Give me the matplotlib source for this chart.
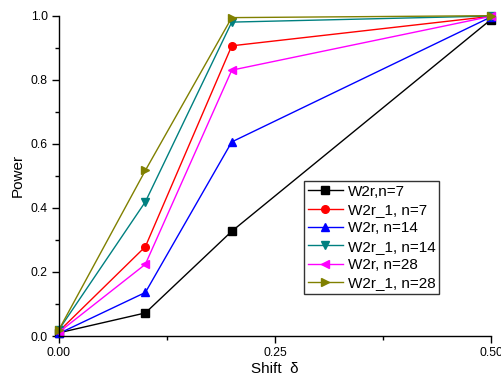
import matplotlib
matplotlib.use("Agg")
import matplotlib.pyplot as plt
from matplotlib.ticker import MultipleLocator, FormatStrFormatter

plt.rcParams['font.family'] = ['Liberation Sans', 'DejaVu Sans']

shift = [0.0, 0.1, 0.2, 0.5]
w2r_n7 = [0.010, 0.072, 0.327, 0.988]
w2r1_n7 = [0.015, 0.279, 0.906, 0.998]
w2r_n14 = [0.008, 0.136, 0.606, 0.996]
w2r1_n14 = [0.020, 0.419, 0.980, 0.999]
w2r_n28 = [0.012, 0.224, 0.830, 0.998]
w2r1_n28 = [0.020, 0.517, 0.994, 1.000]

series = [
    (w2r_n7, 'W2r,n=7', 'black', 's'),
    (w2r1_n7, 'W2r_1, n=7', 'red', 'o'),
    (w2r_n14, 'W2r, n=14', 'blue', '^'),
    (w2r1_n14, 'W2r_1, n=14', '#008080', 'v'),
    (w2r_n28, 'W2r, n=28', 'magenta', '<'),
    (w2r1_n28, 'W2r_1, n=28', '#808000', '>'),
]

fig = plt.figure(figsize=(5.02, 3.82), dpi=100)
ax = fig.add_axes([0.1175, 0.1204, 0.8605, 0.8385])

for vals, label, color, marker in series:
    ax.plot(shift, vals, color=color, marker=marker, markersize=5.5,
            linewidth=1.0, label=label, clip_on=False)

ax.set_xlim(0, 0.5)
ax.set_ylim(0, 1.0)
ax.xaxis.set_major_locator(MultipleLocator(0.25))
ax.xaxis.set_minor_locator(MultipleLocator(0.125))
ax.yaxis.set_major_locator(MultipleLocator(0.2))
ax.yaxis.set_minor_locator(MultipleLocator(0.1))
ax.xaxis.set_major_formatter(FormatStrFormatter('%.2f'))
ax.yaxis.set_major_formatter(FormatStrFormatter('%.1f'))

for s in ['top', 'right']:
    ax.spines[s].set_visible(False)
for s in ['left', 'bottom']:
    ax.spines[s].set_linewidth(1.0)

ax.tick_params(which='major', direction='out', length=5, width=1.0, labelsize=8.8, pad=3)
ax.tick_params(which='minor', direction='out', length=3, width=1.0)

ax.set_xlabel('Shift  δ', fontsize=11, labelpad=2)
ax.set_ylabel('Power', fontsize=11, labelpad=4)

leg = ax.legend(loc='lower right', bbox_to_anchor=(0.88, 0.131), fontsize=11,
                frameon=True, fancybox=False, shadow=False, framealpha=1,
                handlelength=2.3, labelspacing=0.28, borderpad=0.25,
                handletextpad=0.3, borderaxespad=0)
leg.get_frame().set_edgecolor('#333333')
leg.get_frame().set_linewidth(1.0)

fig.savefig('out.png', dpi=100)
